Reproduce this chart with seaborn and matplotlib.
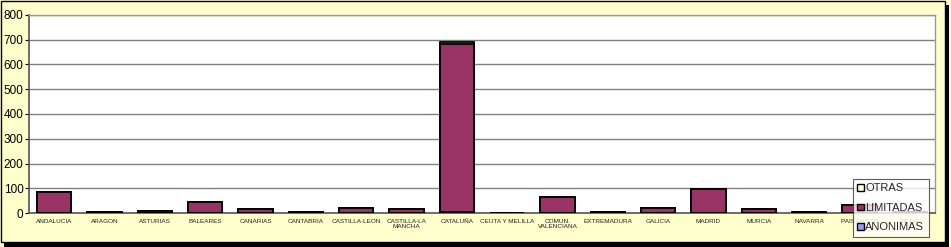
import numpy as np
import pandas as pd
import matplotlib
matplotlib.use("Agg")
import matplotlib.pyplot as plt
from matplotlib.patches import Rectangle, Patch
import seaborn as sns

categories = ["ANDALUCIA", "ARAGON", "ASTURIAS", "BALEARES", "CANARIAS", "CANTABRIA",
              "CASTILLA-LEON", "CASTILLA-LA\nMANCHA", "CATALUÑA", "CEUTA Y MELILLA",
              "COMUN.\nVALENCIANA", "EXTREMADURA", "GALICIA", "MADRID", "MURCIA",
              "NAVARRA", "PAIS VASCO", "RIOJA"]
anonimas = [1, 0, 0, 1, 0, 0, 0, 0, 3, 0, 1, 0, 0, 2, 0, 0, 1, 0]
limitadas = [85, 5, 10, 42, 17, 5, 19, 16, 680, 0, 65, 5, 21, 96, 16, 5, 30, 4]
otras = [0, 0, 0, 0, 0, 0, 0, 0, 7, 0, 0, 0, 0, 0, 0, 0, 0, 0]
yticks = [0, 100, 200, 300, 400, 500, 600, 700, 800]

sns.set_theme(style="white")
plt.rcParams['font.family'] = ['Liberation Sans', 'DejaVu Sans']

df = pd.DataFrame({"cat": categories, "anon": anonimas, "lim": limitadas, "otr": otras})
df["c_anon"] = df["anon"]
df["c_lim"] = df["anon"] + df["lim"]
df["c_otr"] = df["c_lim"] + df["otr"]

c_otr = "#FFFFCC"
c_lim = "#993366"
c_anon = "#9999FF"
bg = "#FFFFCC"

fig = plt.figure(figsize=(9.51, 2.47), dpi=100)
fig.patch.set_facecolor(bg)
# frame with shadow
fig.add_artist(Rectangle((4 / 951, 0 / 247), 945 / 951, 242 / 247, transform=fig.transFigure,
                         facecolor="black", edgecolor="none", zorder=-2))
fig.add_artist(Rectangle((1 / 951, 5 / 247), 944 / 951, 241 / 247, transform=fig.transFigure,
                         facecolor=bg, edgecolor="black", linewidth=1.0, zorder=-1))

ax = fig.add_axes([29 / 951, 34 / 247, 906 / 951, 198 / 247])
ax.set_facecolor("white")

kw = dict(x="cat", order=categories, width=0.68, edgecolor="black", linewidth=1.3,
          errorbar=None, ax=ax, zorder=3)
sns.barplot(data=df, y="c_otr", color=c_otr, saturation=1, **kw)
sns.barplot(data=df, y="c_lim", color=c_lim, saturation=1, **kw)
sns.barplot(data=df, y="c_anon", color=c_anon, saturation=1, **kw)

ax.set_ylim(0, 800)
ax.set_xlim(-0.5, len(categories) - 0.5)
ax.set_yticks(yticks)
ax.set_yticklabels([str(v) for v in yticks], fontsize=8.5, color="black")
ax.set_xticks(range(len(categories)))
ax.set_xticklabels(categories, fontsize=4.6, color="#222222", linespacing=1.0)
ax.tick_params(axis="x", length=0, pad=4)
ax.tick_params(axis="y", length=3, width=0.8, color="black", pad=1, left=True, direction="out")
ax.set_xlabel("")
ax.set_ylabel("")
ax.yaxis.grid(True, color="#808080", linewidth=1.0, zorder=0)
ax.set_axisbelow(True)
for s in ["top", "right"]:
    ax.spines[s].set_color("#999999")
    ax.spines[s].set_linewidth(1.0)
for s in ["left", "bottom"]:
    ax.spines[s].set_color("#555555")
    ax.spines[s].set_linewidth(1.2)

handles = [Patch(facecolor=c_otr, edgecolor="black", linewidth=1.0, label="OTRAS"),
           Patch(facecolor=c_lim, edgecolor="black", linewidth=1.0, label="LIMITADAS"),
           Patch(facecolor=c_anon, edgecolor="black", linewidth=1.0, label="ANONIMAS")]
leg = fig.legend(handles=handles, loc="upper left",
                 bbox_to_anchor=(853 / 951, (247 - 179) / 247),
                 fontsize=8.0, frameon=True, fancybox=False, handlelength=0.55, handleheight=0.55,
                 handletextpad=0.15, borderpad=0.4, labelspacing=0.85, borderaxespad=0)
leg.get_frame().set_edgecolor("#333333")
leg.get_frame().set_linewidth(0.8)
leg.get_frame().set_facecolor("white")
leg.set_zorder(10)

fig.savefig("out.png", dpi=100, facecolor=fig.get_facecolor())
